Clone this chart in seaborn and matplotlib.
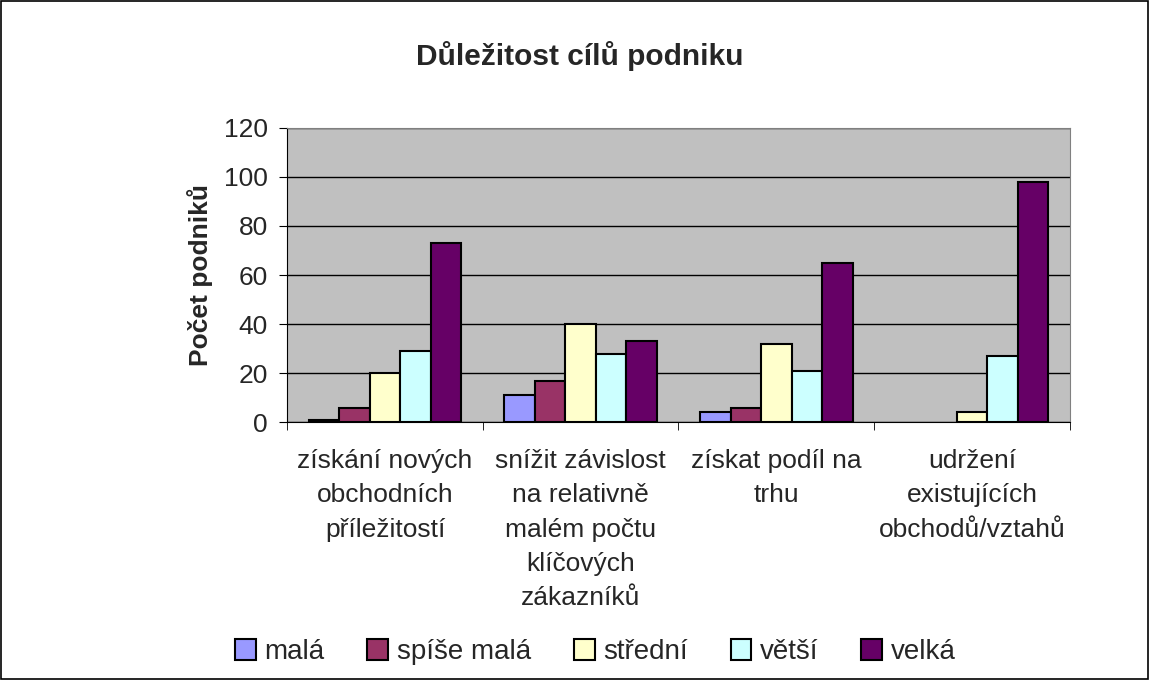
import pandas as pd
import seaborn as sns
import matplotlib.pyplot as plt
from matplotlib.patches import Rectangle

categories = [
    'získání nových\nobchodních\npříležitostí',
    'snížit závislost\nna relativně\nmalém počtu\nklíčových\nzákazníků',
    'získat podíl na\ntrhu',
    'udržení\nexistujících\nobchodů/vztahů',
]
levels = ['malá', 'spíše malá', 'střední', 'větší', 'velká']
mala = [1, 11, 4, 0]
spise_mala = [6, 17, 6, 0]
stredni = [20, 40, 32, 4]
vetsi = [29, 28, 21, 27]
velka = [73, 33, 65, 98]
colors = ['#9999FF', '#993366', '#FFFFCC', '#CCFFFF', '#660066']

rows = []
for level, vals in zip(levels, [mala, spise_mala, stredni, vetsi, velka]):
    for cat, v in zip(categories, vals):
        rows.append({'cíl': cat, 'důležitost': level, 'počet': v})
df = pd.DataFrame(rows)

sns.set_style('white')
plt.rcParams['font.family'] = ['Liberation Sans', 'DejaVu Sans']

fig = plt.figure(figsize=(11.49, 6.8), dpi=100)
ax = fig.add_axes([0.25, 0.379, 0.681, 0.433])
ax.set_facecolor('#C0C0C0')

sns.barplot(data=df, x='cíl', y='počet', hue='důležitost', hue_order=levels,
            palette=colors, order=categories, width=0.78, ax=ax,
            edgecolor='black', linewidth=1.5, saturation=1)
# empty bars leave no outline
for cont in ax.containers:
    for p in cont.patches:
        if p.get_height() == 0:
            p.set_linewidth(0)

ax.set_ylim(0, 120)
ax.set_yticks(range(0, 121, 20))
ax.set_xlim(-0.5, 3.5)
ax.grid(axis='y', color='black', linewidth=1)
ax.set_axisbelow(True)
for side in ['top', 'right']:
    ax.spines[side].set_color('#808080')
ax.spines['left'].set_color('black')
ax.spines['bottom'].set_color('black')

ax.tick_params(axis='y', labelsize=19, length=6, direction='out', left=True,
               color='black', pad=8)
ax.tick_params(axis='x', labelsize=19, length=0, pad=19)
for lbl in ax.get_xticklabels():
    lbl.set_linespacing(1.55)
ax.set_xticks([-0.5, 0.5, 1.5, 2.5, 3.5], minor=True)
ax.tick_params(axis='x', which='minor', length=6, bottom=True, color='black')

ax.set_xlabel('')
ax.set_ylabel('Počet podniků', fontsize=19, fontweight='bold', labelpad=8)

fig.text(0.505, 0.918, 'Důležitost cílů podniku', ha='center', va='center',
         fontsize=21.5, fontweight='bold')

handles, labels = ax.get_legend_handles_labels()
for h in handles:
    h.set_edgecolor('black')
    h.set_linewidth(1.5)
ax.legend_.remove()
fig.legend(handles, labels, loc='center', bbox_to_anchor=(0.518, 0.041), ncol=5,
           frameon=False, fontsize=20, handlelength=0.75, handleheight=0.75,
           handletextpad=0.3, columnspacing=1.55)

fig.patches.append(Rectangle((0.001, 0.001), 0.998, 0.998, transform=fig.transFigure,
                             fill=False, edgecolor='black', linewidth=1.2))

fig.savefig('out.png', dpi=100)
